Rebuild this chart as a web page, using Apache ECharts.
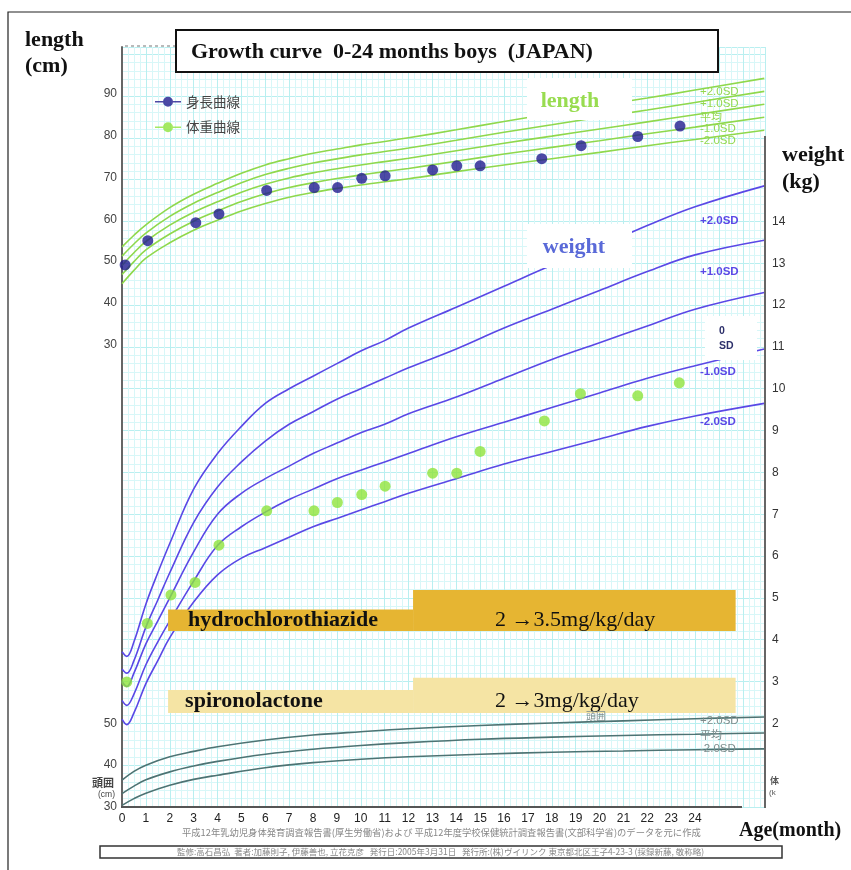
<!DOCTYPE html>
<html>
<head>
<meta charset="utf-8">
<script src="https://cdn.jsdelivr.net/npm/echarts@6/dist/echarts.min.js"></script>
<style>
html, body { margin: 0; padding: 0; background: #fff; }
#chart { width: 851px; height: 870px; }
</style>
</head>
<body>
<div id="chart"></div>
<script>
// patient measurements (age in months)
let lengthMonths = [0.13, 1.08, 3.09, 4.06, 6.06, 8.05, 9.03, 10.04, 11.02, 13.01, 14.02, 15.0, 17.58, 19.23, 21.6, 23.37]
let lengthValues = [49.1, 54.9, 59.2, 61.3, 66.9, 67.6, 67.6, 69.8, 70.4, 71.8, 72.8, 72.8, 74.5, 77.6, 79.8, 82.3]
let weightMonths = [0.2, 1.06, 2.05, 3.06, 4.06, 6.06, 8.04, 9.02, 10.04, 11.02, 13.01, 14.02, 15.0, 17.69, 19.2, 21.6, 23.34]
let weightValues = [2.99, 4.39, 5.07, 5.37, 6.26, 7.08, 7.08, 7.28, 7.47, 7.67, 7.98, 7.98, 8.5, 9.23, 9.88, 9.83, 10.14]

// reference curves, length (cm)
let lenCurveMonths = [0, 0.5, 1, 2, 3, 4, 5, 6, 7, 8, 9, 10, 11, 12, 14, 16, 18, 20, 22, 24, 26.9]
let lenP2 = [53.4, 56.2, 58.7, 62.8, 66.0, 68.6, 71.0, 73.0, 74.5, 75.8, 76.8, 77.8, 78.6, 79.5, 81.4, 83.4, 85.3, 87.2, 89.0, 90.9, 93.7]
let lenP1 = [51.2, 54.1, 56.7, 60.7, 63.85, 66.4, 68.75, 70.7, 72.2, 73.45, 74.45, 75.4, 76.2, 77.05, 78.9, 80.8, 82.6, 84.4, 86.15, 87.95, 90.6]
let lenMean = [49.0, 52.0, 54.7, 58.6, 61.7, 64.2, 66.5, 68.4, 69.9, 71.1, 72.1, 73.0, 73.8, 74.6, 76.4, 78.2, 79.9, 81.6, 83.3, 85.0, 87.5]
let lenM1 = [46.8, 49.9, 52.7, 56.5, 59.55, 62.0, 64.25, 66.1, 67.6, 68.75, 69.75, 70.6, 71.4, 72.15, 73.9, 75.6, 77.2, 78.8, 80.45, 82.05, 84.4]
let lenM2 = [44.6, 47.8, 50.7, 54.4, 57.4, 59.8, 62.0, 63.8, 65.3, 66.4, 67.4, 68.2, 69.0, 69.7, 71.4, 73.0, 74.5, 76.0, 77.6, 79.1, 81.3]

// reference curves, weight (kg)
let wCurveMonths = [0, 0.2, 0.5, 1, 1.5, 2, 3, 4, 5, 6, 7, 8, 9, 10, 11, 12, 14, 16, 18, 20, 22, 24, 26.9]
let wP2 = [3.71, 3.6, 3.95, 4.85, 5.6, 6.3, 7.6, 8.45, 9.1, 9.65, 10.0, 10.3, 10.6, 10.9, 11.15, 11.45, 11.95, 12.45, 12.95, 13.4, 13.9, 14.35, 14.85]
let wP1 = [3.3, 3.2, 3.5, 4.3, 4.95, 5.6, 6.8, 7.65, 8.25, 8.75, 9.15, 9.45, 9.75, 10.0, 10.25, 10.5, 10.95, 11.45, 11.9, 12.35, 12.8, 13.2, 13.55]
let wMean = [3.0, 2.88, 3.2, 3.9, 4.45, 5.0, 6.1, 7.0, 7.5, 7.85, 8.15, 8.45, 8.7, 8.95, 9.15, 9.4, 9.8, 10.25, 10.7, 11.1, 11.5, 11.9, 12.3]
let wM1 = [2.55, 2.43, 2.7, 3.4, 3.95, 4.45, 5.4, 6.25, 6.7, 7.05, 7.35, 7.6, 7.85, 8.05, 8.25, 8.45, 8.85, 9.2, 9.55, 9.9, 10.25, 10.55, 10.95]
let wM2 = [2.1, 1.97, 2.25, 2.95, 3.5, 4.05, 4.9, 5.55, 5.95, 6.2, 6.45, 6.7, 6.9, 7.1, 7.3, 7.5, 7.85, 8.2, 8.5, 8.8, 9.1, 9.35, 9.65]

// reference curves, head circumference (cm)
let headMonths = [0, 0.5, 1, 2, 3, 4, 6, 8, 10, 12, 15, 18, 21, 24, 26.9]
let headP2 = [36.4, 38.5, 40.0, 42.0, 43.3, 44.4, 46.0, 47.2, 48.0, 48.7, 49.5, 50.1, 50.6, 51.1, 51.5]
let headMean = [33.2, 35.0, 36.5, 38.4, 39.8, 40.9, 42.6, 43.8, 44.7, 45.4, 46.2, 46.7, 47.1, 47.4, 47.7]
let headM2 = [30.4, 32.0, 33.3, 35.2, 36.6, 37.6, 39.4, 40.6, 41.4, 42.0, 42.6, 43.1, 43.4, 43.7, 43.9]

// drug periods: [fromMonth, toMonth, bottom, top] on the weight scale
let hctzSteps = [[1.93, 12.19, 4.21, 4.72], [12.19, 25.7, 4.21, 5.19]]
let hctzText = ['hydrochlorothiazide', '2 →3.5mg/kg/day']
let spiroSteps = [[1.93, 12.19, 2.25, 2.8], [12.19, 25.7, 2.25, 3.09]]
let spiroText = ['spironolactone', '2 →3mg/kg/day']

let xLabels = [0, 24]
let weightLabels = [2, 14]
let lengthTicks = [30, 40, 50, 60, 70, 80, 90]
let headTicks = [30, 40, 50]

const SERIF = '"Liberation Serif", "Times New Roman", serif'
const SANS = '"Liberation Sans", Arial, sans-serif'
const JP = '"Noto Sans CJK JP", sans-serif'

function pairs(ms, vs) {
    return ms.map(function (m, i) { return [m, vs[i]] })
}

function curve(name, ms, vs, color, axis) {
    return {
        name: name, type: 'line', yAxisIndex: axis, data: pairs(ms, vs),
        symbol: 'none', smooth: 0.4, silent: true,
        lineStyle: {color: color, width: 1.6}, z: 2
    }
}

function drugBar(name, steps, texts, color, nameGap) {
    let bandTop = steps[0][3]
    let textGap = [nameGap, 82]
    return {
        name: name, type: 'custom', yAxisIndex: 0, data: steps, z: 6, silent: true,
        renderItem: function (params, api) {
            let i = params.dataIndex
            let p0 = api.coord([api.value(0), api.value(3)])
            let p1 = api.coord([api.value(1), api.value(2)])
            let ty = (api.coord([0, api.value(2)])[1] + api.coord([0, bandTop])[1]) / 2
            return {
                type: 'group',
                children: [
                    {type: 'rect', shape: {x: p0[0], y: p0[1], width: p1[0] - p0[0], height: p1[1] - p0[1]},
                        style: {fill: color}},
                    {type: 'text', x: p0[0] + textGap[i], y: ty,
                        style: {text: texts[i], fill: '#111', align: 'left', verticalAlign: 'middle',
                            font: (i === 0 ? 'bold 22px ' : '22px ') + SERIF}}
                ]
            }
        }
    }
}

function txt(x, y, s, font, color, align) {
    return {type: 'text', x: x, y: y, z: 100,
        style: {text: s, font: font, fill: color, align: align || 'left', verticalAlign: 'middle'}}
}
function box(x, y, w, h, fill, stroke, lw) {
    return {type: 'rect', z: 90, shape: {x: x, y: y, width: w, height: h},
        style: {fill: fill, stroke: stroke || null, lineWidth: lw || 0}}
}

const lenC = '#8fd84c'
const wC = '#5a48e6'
const headC = '#4d7373'
const sdGreen = '#93d84f'
const sdBlue = '#5a48e6'
const sdGray = '#7d8c8c'
const gridMajor = '#b9eff0'
const gridMinor = '#d8f7f8'

const legendIcon = 'path://M0,4.3h26v1.4h-26z M8,5a5,5 0 1,1 10,0a5,5 0 1,1 -10,0z'

let option = {
    animation: false,
    backgroundColor: '#fff',
    grid: {left: 122, right: 86, top: 47, bottom: 63},
    legend: {
        data: ['身長曲線', '体重曲線'], orient: 'vertical', left: 155, top: 95, padding: 0,
        itemWidth: 26, itemHeight: 10, itemGap: 12, icon: legendIcon,
        textStyle: {fontSize: 13.5, color: '#444', fontFamily: JP}
    },
    xAxis: {
        type: 'value', min: 0, max: 26.93, interval: 1,
        axisLine: {show: false},
        axisTick: {show: false},
        axisLabel: {
            color: '#222', fontSize: 12, fontFamily: SANS, margin: 6,
            formatter: function (v) { return (v >= xLabels[0] && v <= xLabels[1]) ? v : '' }
        },
        splitLine: {show: true, lineStyle: {color: gridMajor, width: 1}},
        minorTick: {show: false, splitNumber: 4},
        minorSplitLine: {show: true, lineStyle: {color: gridMinor, width: 1}}
    },
    yAxis: [
        {   // weight, right
            type: 'value', position: 'right', min: 0, max: 18.17, interval: 1,
            axisLine: {show: false}, axisTick: {show: false},
            axisLabel: {
                color: '#333', fontSize: 12, fontFamily: SANS, margin: 7,
                formatter: function (v) { return (v >= weightLabels[0] && v <= weightLabels[1]) ? v : '' }
            },
            splitLine: {show: true, lineStyle: {color: gridMajor, width: 1}},
            minorTick: {show: false, splitNumber: 5},
            minorSplitLine: {show: true, lineStyle: {color: gridMinor, width: 1}}
        },
        {   // length, left
            type: 'value', position: 'left', min: -80.5, max: 101.2,
            axisLine: {show: true, lineStyle: {color: '#666', width: 2}},
            axisTick: {show: false},
            axisLabel: {color: '#444', fontSize: 12, fontFamily: SANS, margin: 5, customValues: lengthTicks},
            splitLine: {show: false}
        },
        {   // head circumference, left
            type: 'value', position: 'left', min: 30, max: 211.7,
            axisLine: {show: false}, axisTick: {show: false},
            axisLabel: {color: '#444', fontSize: 12, fontFamily: SANS, margin: 5, customValues: headTicks},
            splitLine: {show: false}
        }
    ],
    series: [
        curve('len+2', lenCurveMonths, lenP2, lenC, 1),
        curve('len+1', lenCurveMonths, lenP1, lenC, 1),
        curve('len0', lenCurveMonths, lenMean, lenC, 1),
        curve('len-1', lenCurveMonths, lenM1, lenC, 1),
        curve('len-2', lenCurveMonths, lenM2, lenC, 1),
        curve('w+2', wCurveMonths, wP2, wC, 0),
        curve('w+1', wCurveMonths, wP1, wC, 0),
        curve('w0', wCurveMonths, wMean, wC, 0),
        curve('w-1', wCurveMonths, wM1, wC, 0),
        curve('w-2', wCurveMonths, wM2, wC, 0),
        curve('h+2', headMonths, headP2, headC, 2),
        curve('h0', headMonths, headMean, headC, 2),
        curve('h-2', headMonths, headM2, headC, 2),
        drugBar('hctz', hctzSteps, hctzText, '#e6b532', 20),
        drugBar('spiro', spiroSteps, spiroText, '#f5e4a4', 17),
        {
            name: '身長曲線', type: 'scatter', yAxisIndex: 1, data: pairs(lengthMonths, lengthValues),
            symbol: 'circle', symbolSize: 11, itemStyle: {color: '#211b8e'}, z: 8
        },
        {
            name: '体重曲線', type: 'scatter', yAxisIndex: 0, data: pairs(weightMonths, weightValues),
            symbol: 'circle', symbolSize: 11, itemStyle: {color: '#8fe33c'}, z: 8
        }
    ],
    graphic: {
        elements: [
            {type: 'rect', z: 100, shape: {x: 8, y: 12, width: 900, height: 900},
                style: {fill: null, stroke: '#222', lineWidth: 1.2}},
            {type: 'line', z: 100, shape: {x1: 125, y1: 46, x2: 175, y2: 46},
                style: {stroke: '#777', lineWidth: 1.2, lineDash: [3, 3]}},
            {type: 'line', z: 100, shape: {x1: 765, y1: 136, x2: 765, y2: 808},
                style: {stroke: '#666', lineWidth: 2}},
            {type: 'line', z: 100, shape: {x1: 121, y1: 807, x2: 742, y2: 807},
                style: {stroke: '#555', lineWidth: 2}},
            box(176, 30, 542, 42, '#fff', '#111', 2),
            txt(191, 52, 'Growth curve  0-24 months boys  (JAPAN)', 'bold 22px ' + SERIF, '#111'),
            txt(25, 40, 'length', 'bold 22px ' + SERIF, '#111'),
            txt(25, 66, '(cm)', 'bold 22px ' + SERIF, '#111'),
            txt(782, 155, 'weight', 'bold 22px ' + SERIF, '#111'),
            txt(782, 182, '(kg)', 'bold 22px ' + SERIF, '#111'),
            txt(739, 831, 'Age(month)', 'bold 20px ' + SERIF, '#111'),
            box(527, 78, 105, 42, '#fff'),
            txt(570, 101, 'length', 'bold 22px ' + SERIF, '#98dc50', 'center'),
            box(527, 224, 105, 44, '#fff'),
            txt(574, 247, 'weight', 'bold 22px ' + SERIF, '#5a6ad8', 'center'),
            txt(700, 92, '+2.0SD', '11.5px ' + SANS, sdGreen),
            txt(700, 104, '+1.0SD', '11.5px ' + SANS, sdGreen),
            txt(700, 117, '平均', '11px ' + JP, sdGreen),
            txt(700, 129, '-1.0SD', '11.5px ' + SANS, sdGreen),
            txt(700, 141, '-2.0SD', '11.5px ' + SANS, sdGreen),
            txt(700, 221, '+2.0SD', 'bold 11.5px ' + SANS, sdBlue),
            txt(700, 272, '+1.0SD', 'bold 11.5px ' + SANS, sdBlue),
            box(705, 316, 52, 44, '#fff'),
            txt(719, 331, '0', 'bold 10.5px ' + SANS, '#2c2f6a'),
            txt(719, 346, 'SD', 'bold 10.5px ' + SANS, '#2c2f6a'),
            txt(700, 372, '-1.0SD', 'bold 11.5px ' + SANS, sdBlue),
            txt(700, 422, '-2.0SD', 'bold 11.5px ' + SANS, sdBlue),
            txt(586, 716, '頭囲', '10px ' + JP, sdGray),
            txt(700, 721, '+2.0SD', '11.5px ' + SANS, sdGray),
            txt(700, 735, '平均', '11px ' + JP, sdGray),
            txt(700, 749, '-2.0SD', '11.5px ' + SANS, sdGray),
            txt(114, 783, '頭囲', 'bold 11px ' + JP, '#444', 'right'),
            txt(115, 795, '(cm)', '8.5px ' + SANS, '#444', 'right'),
            txt(770, 781, '体', 'bold 9px ' + JP, '#555'),
            txt(769, 793, '(k', '8px ' + SANS, '#555'),
            txt(182, 832, '平成12年乳幼児身体発育調査報告書(厚生労働省)および 平成12年度学校保健統計調査報告書(文部科学省)のデータを元に作成', '9.3px ' + JP, '#888'),
            box(100, 846, 682, 12, '#fff', '#333', 1.5),
            txt(177, 852, '監修:高石昌弘  著者:加藤則子, 伊藤善也, 立花克彦   発行日:2005年3月31日   発行所:(株)ヴイリンク 東京都北区王子4-23-3 (採録新藤, 敬称略)', '8.5px ' + JP, '#888')
        ]
    }
}

const dom = document.getElementById('chart')
const myChart = echarts.init(dom, null, {renderer: 'canvas'})
myChart.setOption(option, true)
</script>
</body>
</html>
